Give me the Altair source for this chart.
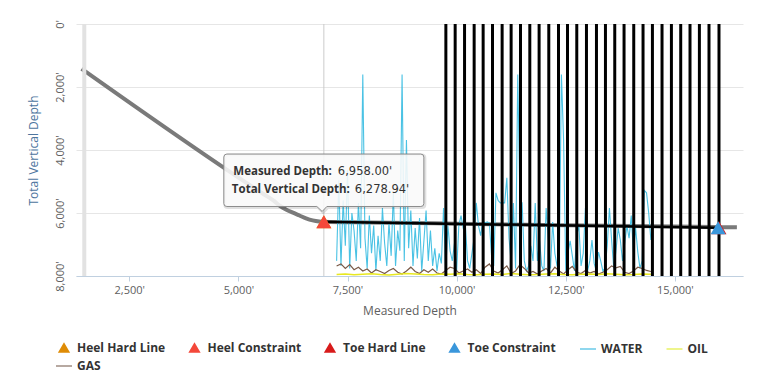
import altair as alt
import pandas as pd

# ---------------- data ----------------
X_DOMAIN = [1280, 16560]
TVD_DOMAIN = [0, 8000]
RATE_DOMAIN = [0, 1000]
x_ticks = [2500, 5000, 7500, 10000, 12500, 15000]
y_ticks = [0, 2000, 4000, 6000, 8000]

band_md = [1470]
heel_md, heel_tvd = 6958.00, 6278.94
toe_md, toe_tvd = 15990, 6470
toe_hard_md, toe_hard_tvd = 16010, 6470

# actual well path (gray)
well_md = [1410, 5600, 5800, 5950, 6100, 6250, 6400, 6550, 6700, 6850, 6958,
           8000, 10000, 12000, 14000, 15000, 16000, 16420]
well_tvd = [1420, 5420, 5600, 5770, 5895, 5990, 6080, 6170, 6235, 6270, 6279,
            6300, 6338, 6378, 6415, 6432, 6448, 6452]

# stage boundaries (black vertical lines)
stage_md = [9753, 9966, 10181, 10401, 10607, 10822, 11042, 11248, 11463, 11676,
            11889, 12111, 12333, 12539, 12752, 12974, 13203, 13409, 13622, 13835,
            14057, 14270, 14485, 14705, 14920, 15133, 15346, 15561, 15781, 16010]

prod_start = 7250
water_step = 50
water = [60, 380, 40, 300, 120, 420, 30, 250, 180, 60,
         290, 110, 800, 150, 30, 240, 90, 200, 20, 160,
         60, 270, 130, 40, 210, 80, 330, 40, 180, 100,
         800, 60, 540, 110, 260, 40, 190, 70, 230, 20,
         140, 260, 60, 180, 40, 110, 20, 90,
         50, 270, 20, 200, 100, 60, 130, 20, 200, 240,
         190, 200, 60, 30, 90, 150, 290, 200, 160, 220,
         210, 215, 210, 80, 40, 330, 300, 290, 290, 290,
         390, 150, 50, 290, 30, 800, 290, 290, 60, 20,
         40, 120, 60, 290, 60, 140, 40, 20, 270, 150, 30,
         214, 90, 40, 20, 800, 540, 20, 90, 140, 80,
         20, 160, 200, 40, 90, 270, 20, 60, 143, 50,
         20, 95, 60, 20, 30, 120, 270, 143, 30, 100,
         190, 143, 60, 130, 200, 150, 240, 95, 190, 95,
         30, 60, 340, 330, 250, 143]
gas_step = 100
gas = [40, 48, 30, 45, 25, 35, 20, 28, 12, 25,
       18, 10, 22, 30, 15, 8, 20, 35, 18, 10,
       25, 15, 28, 12, 8, 22, 35, 30, 12, 20,
       28, 15, 25, 10, 35, 48, 20, 12, 25, 40,
       10, 20, 45, 30, 12, 18, 8, 20, 30, 12,
       35, 20, 8, 25, 38, 15, 10, 22, 12, 18,
       8, 15, 25, 40, 32, 38, 15, 10, 20, 35,
       30, 22, 18]
oil_step = 200
oil = [6, 8, 5, 7, 9, 6, 4, 7, 10, 8,
       6, 5, 8, 7, 9, 6, 5, 7, 8, 6,
       10, 7, 5, 6, 8, 9, 6, 5, 7, 8,
       6, 9, 7, 5, 6, 8, 7]

legend_names = ["Heel Hard Line", "Heel Constraint", "Toe Hard Line", "Toe Constraint",
                "WATER", "OIL", "GAS"]
marker_colors = ["#df8c06", "#f4483a", "#d81b1b", "#3a97db"]
legend_stroke_colors = marker_colors + ["#8fd7ee", "#eef58c", "#b7a9a1"]
legend_fill_colors = marker_colors + ["transparent", "transparent", "transparent"]
TRI = "M0,-0.5L0.55,0.45L-0.55,0.45Z"
legend_shapes = [TRI, TRI, TRI, TRI, "stroke", "stroke", "stroke"]

# ---------------- frames ----------------
well_df = pd.DataFrame({"md": well_md, "tvd": well_tvd})
plan_df = pd.DataFrame({"md": [heel_md, toe_md], "tvd": [heel_tvd, toe_tvd]})
stage_df = pd.DataFrame({"md": stage_md})
band_df = pd.DataFrame({"md": band_md})
cross_df = pd.DataFrame({"md": [heel_md]})
water_df = pd.DataFrame({"md": [prod_start + water_step * i for i in range(len(water))], "rate": water})
gas_df = pd.DataFrame({"md": [prod_start + gas_step * i for i in range(len(gas))], "rate": gas})
oil_df = pd.DataFrame({"md": [prod_start + oil_step * i for i in range(len(oil))], "rate": oil})
marker_df = pd.DataFrame({
    "marker": ["Heel Hard Line", "Toe Hard Line", "Heel Constraint", "Toe Constraint"],
    "md": [heel_md, toe_hard_md, heel_md, toe_md],
    "tvd": [heel_tvd, toe_hard_tvd, heel_tvd, toe_tvd],
    "k": [0, 1, 2, 3],
})
legend_df = pd.DataFrame({"name": legend_names, "md": [heel_md] * 7, "rate": [-1] * 7})
tip_df = pd.DataFrame({"md": [heel_md], "tvd": [heel_tvd],
                       "l1": ["Measured Depth:"], "v1": [f"{heel_md:,.2f}'"],
                       "l2": ["Total Vertical Depth:"], "v2": [f"{heel_tvd:,.2f}'"]})

# ---------------- encodings ----------------
FONT = "Open Sans"
label_expr = "format(datum.value, ',') + \"'\""

x_scale = alt.Scale(domain=X_DOMAIN, nice=False, zero=False)
x_axis = alt.Axis(values=x_ticks, labelExpr=label_expr, title="Measured Depth",
                  grid=False, domainColor="#C0D0E0", tickColor="#C0D0E0",
                  tickSize=5, labelPadding=3, labelColor="#606060",
                  labelFont=FONT, labelFontSize=11, titleFont=FONT,
                  titleFontSize=12, titleFontWeight="normal",
                  titleColor="#606060", titlePadding=10, labelFlush=False)


def xx():
    return alt.X("md:Q", scale=x_scale, axis=x_axis)


y_axis = alt.Y("tvd:Q", scale=alt.Scale(domain=TVD_DOMAIN, reverse=True, nice=False),
               axis=alt.Axis(values=y_ticks, labelExpr=label_expr, title="Total Vertical Depth",
                             grid=True, gridColor="#e6e6e6", domain=False, ticks=False,
                             labelAngle=270, labelAlign="center", labelBaseline="bottom",
                             labelPadding=11, labelColor="#606060", labelFont=FONT,
                             labelFontSize=11, titleFont=FONT, titleFontSize=12,
                             titleFontWeight="normal", titleColor="#4d759e",
                             titlePadding=14, labelFlush=False))


def y_tvd():
    return alt.Y("tvd:Q", scale=alt.Scale(domain=TVD_DOMAIN, reverse=True, nice=False), axis=None)


def y_rate():
    return alt.Y("rate:Q", scale=alt.Scale(domain=RATE_DOMAIN, nice=False), axis=None)


# ---------------- layers ----------------
well = alt.Chart(well_df).mark_line(color="#7a7a7a", strokeWidth=4, interpolate="monotone").encode(
    x=xx(), y=y_axis, order="md:Q")

band = alt.Chart(band_df).mark_rule(color="#e2e2e2", strokeWidth=4).encode(x=xx())
cross = alt.Chart(cross_df).mark_rule(color="#cccccc", strokeWidth=1).encode(x=xx())

water_l = alt.Chart(water_df).mark_line(color="#36bbe1", strokeWidth=1.1, opacity=0.9).encode(
    x=xx(), y=y_rate())
gas_l = alt.Chart(gas_df).mark_line(color="#7a5a48", strokeWidth=1.2).encode(x=xx(), y=y_rate())
oil_l = alt.Chart(oil_df).mark_line(color="#e8e820", strokeWidth=1.5).encode(x=xx(), y=y_rate())

LEG = alt.Legend(orient="none", legendX=-21, legendY=315, direction="horizontal",
                 columns=6, title=None, labelFont=FONT, labelFontSize=12,
                 labelFontWeight="bold", labelColor="#333333", symbolSize=256,
                 symbolStrokeWidth=2, columnPadding=19.5, rowPadding=1, labelOffset=4,
                 padding=0, labelLimit=300)

legend_layer = alt.Chart(legend_df).mark_point(filled=True, opacity=1).encode(
    x=xx(), y=y_rate(),
    shape=alt.Shape("name:N", scale=alt.Scale(domain=legend_names, range=legend_shapes), legend=LEG),
    fill=alt.Fill("name:N", scale=alt.Scale(domain=legend_names, range=legend_fill_colors), legend=LEG),
    stroke=alt.Stroke("name:N", scale=alt.Scale(domain=legend_names, range=legend_stroke_colors), legend=LEG),
).transform_filter("datum.rate >= 0")

stages = alt.Chart(stage_df).mark_rule(color="#000000", strokeWidth=3).encode(x=xx())

plan = alt.Chart(plan_df).mark_line(color="#000000", strokeWidth=2.5).encode(x=xx(), y=y_tvd())

markers = alt.Chart(marker_df).mark_point(shape="triangle-up", filled=True, size=225,
                                          opacity=1, strokeWidth=0).encode(
    x=xx(), y=y_tvd(),
    color=alt.Color("marker:N", scale=alt.Scale(domain=legend_names[:4], range=marker_colors),
                    legend=None),
    order=alt.Order("k:Q"))

box_path = ("M-0.97,-0.677H0.97Q1,-0.677 1,-0.647V-0.183Q1,-0.153 0.97,-0.153"
            "H0.03L-0.017,-0.103L-0.07,-0.153H-0.97Q-1,-0.153 -1,-0.183"
            "V-0.647Q-1,-0.677 -0.97,-0.677Z")
shadow_path = ("M-0.96,-0.667H0.98Q1.01,-0.667 1.01,-0.637V-0.173Q1.01,-0.143 0.98,-0.143"
               "H0.04L-0.007,-0.093L-0.06,-0.143H-0.96Q-0.99,-0.143 -0.99,-0.173"
               "V-0.637Q-0.99,-0.667 -0.96,-0.667Z")

tip_shadow = alt.Chart(tip_df).mark_point(shape=shadow_path, size=40000, filled=False,
                                          stroke="#000000", strokeOpacity=0.12,
                                          strokeWidth=3, opacity=1).encode(x=xx(), y=y_tvd())
tip_box = alt.Chart(tip_df).mark_point(shape=box_path, size=40000, filled=True,
                                       fill="#f9f9f9", fillOpacity=0.88, stroke="#8c8c8c",
                                       strokeWidth=1, opacity=1).encode(x=xx(), y=y_tvd())

t1 = alt.Chart(tip_df).mark_text(align="right", baseline="alphabetic", dx=8, dy=-47,
                                 font="Open Sans", fontSize=11.5, fontWeight="bold",
                                 color="#333333").encode(x=xx(), y=y_tvd(), text="l1:N")
t2 = alt.Chart(tip_df).mark_text(align="left", baseline="alphabetic", dx=14, dy=-47,
                                 font="DejaVu Sans", fontSize=11.5, color="#333333").encode(
    x=xx(), y=y_tvd(), text="v1:N")
t3 = alt.Chart(tip_df).mark_text(align="right", baseline="alphabetic", dx=26, dy=-29,
                                 font="Open Sans", fontSize=11.5, fontWeight="bold",
                                 color="#333333").encode(x=xx(), y=y_tvd(), text="l2:N")
t4 = alt.Chart(tip_df).mark_text(align="left", baseline="alphabetic", dx=31, dy=-29,
                                 font="DejaVu Sans", fontSize=11.5, color="#333333").encode(
    x=xx(), y=y_tvd(), text="v2:N")

chart = alt.layer(
    well, band, cross, water_l, gas_l, oil_l, legend_layer, stages, plan, markers,
    tip_shadow, tip_box, t1, t2, t3, t4
).resolve_scale(y="independent").properties(
    width=667, height=252,
    autosize=alt.AutoSizeParams(type="none"),
    padding={"left": 68, "top": 16, "right": 16, "bottom": 100},
).configure_view(stroke=None)

chart.save("out.html", embed_options={"renderer": "svg", "actions": False})
